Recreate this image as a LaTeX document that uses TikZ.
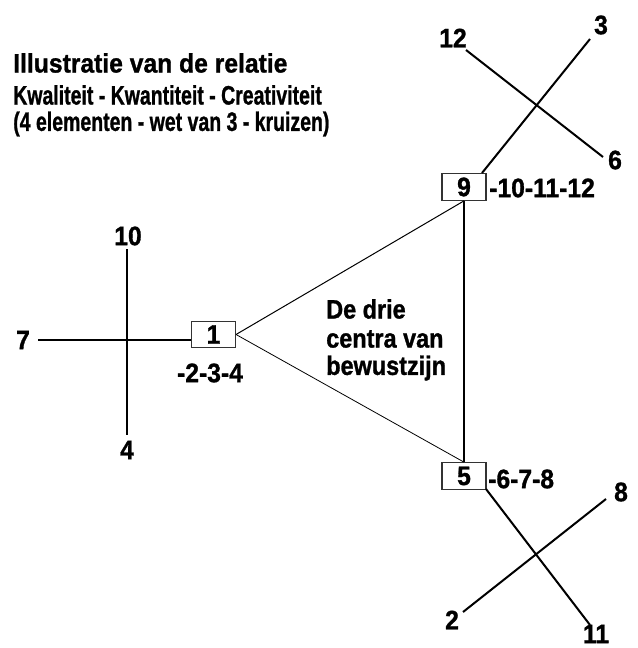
\documentclass[tikz,border=0pt]{standalone}
\usepackage{fontspec}
\setmainfont{Liberation Sans}
\newfontfamily\hv[FakeBold=1.2]{Liberation Sans Bold}
\newcommand{\tx}[1]{\scalebox{1}[1.08]{\hv #1}}
\newcommand{\txs}[2]{\scalebox{#1}[1.08]{\hv #2}}
\begin{document}
\begin{tikzpicture}[x=0.75pt,y=-0.75pt,
  lbl/.style={font=\fontsize{18.5}{22}\selectfont, inner sep=0pt},
  numbox/.style={draw=black!80, line width=0.8pt, fill=white, minimum width=33pt, minimum height=20pt, inner sep=0pt, font=\fontsize{18.5}{22}\selectfont},
  thickln/.style={line width=1.5pt},
  thinln/.style={line width=0.75pt}]
\useasboundingbox (0,0) rectangle (637,648);
% title
\node[lbl, anchor=west] (t1) at (13,63) {\tx{Illustratie van de relatie}};
\node[lbl, anchor=west] (t2) at (13,95) {\txs{0.79}{Kwaliteit - Kwantiteit - Creativiteit}};
\node[lbl, anchor=west] (t3) at (13,124) {\txs{0.79}{(4 elementen - wet van 3 - kruizen)}};
% boxes
\node[numbox] (b1) at (213.5,334.5) {\tx{1}};
\node[numbox] (b9) at (464,187) {\tx{9}};
\node[numbox] (b5) at (464,476) {\tx{5}};
\node[lbl] (l1) at (210,373) {\tx{-2-3-4}};
\node[lbl, anchor=west] (l9) at (489,188) {\tx{-10-11-12}};
\node[lbl, anchor=west] (l5) at (488,479) {\tx{-6-7-8}};
% centre text
\node[lbl, anchor=west] (ct1) at (326,309) {\txs{0.95}{De drie}};
\node[lbl, anchor=west] (ct2) at (326,339) {\txs{0.95}{centra van}};
\node[lbl, anchor=west] (ct3) at (326,368) {\txs{0.95}{bewustzijn}};
% triangle
\draw[thinln] (b1.east) -- (b9.south);
\draw[thinln, line width=0.6pt] (b1.east) -- (b5.north);
\draw[thickln] (b9.south) -- (b5.north);
% cross at 1
\node[lbl] (n10) at (128,236) {\tx{10}};
\node[lbl] (n7) at (23,340) {\tx{7}};
\node[lbl] (n4) at (127,450) {\tx{4}};
\coordinate (c10) at (127,249);
\coordinate (c4) at (127,435);
\coordinate (c7) at (38,340);
\draw[thickln] (c10) -- (c4);
\draw[thickln] (c7) -- (c7 -| b1.west);
% cross at 9
\node[lbl] (n12) at (453,38) {\tx{12}};
\node[lbl] (n3) at (601,25) {\tx{3}};
\node[lbl] (n6) at (615,160) {\tx{6}};
\coordinate (c12) at (466,50);
\coordinate (c6) at (603,157);
\coordinate (c3) at (590,39);
\coordinate (c9) at (482,173);
\draw[thickln] (c9) -- (c3);
\draw[thickln] (c12) -- (c6);
% cross at 5
\node[lbl] (n8) at (621,492) {\tx{8}};
\node[lbl] (n2) at (452,620) {\tx{2}};
\node[lbl] (n11) at (596,634) {\tx{11}};
\coordinate (c5) at (486,489);
\coordinate (c11) at (590,625);
\coordinate (c2) at (463,612);
\coordinate (c8) at (606,499);
\draw[thickln] (c5) -- (c11);
\draw[thickln] (c2) -- (c8);
\end{tikzpicture}
\end{document}
